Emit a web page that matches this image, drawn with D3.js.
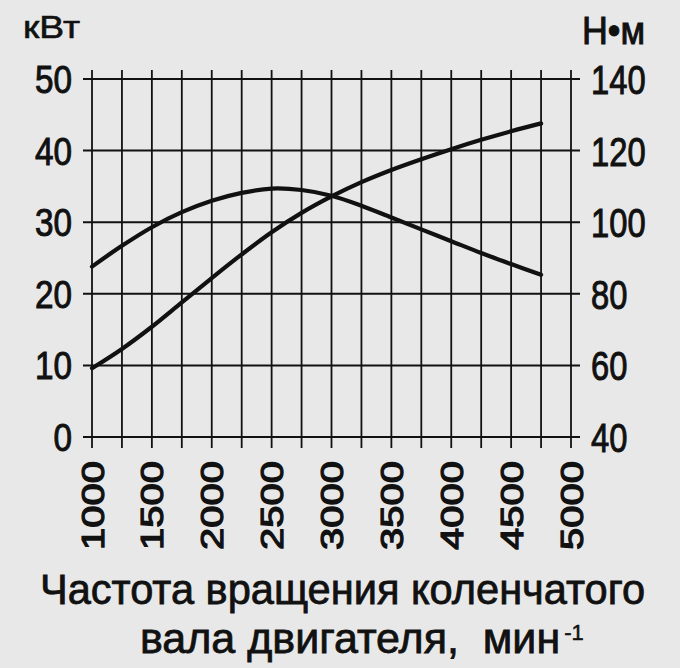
<!DOCTYPE html>
<html>
<head>
<meta charset="utf-8">
<script src="https://cdn.jsdelivr.net/npm/d3@7"></script>
<style>
  html, body { margin: 0; padding: 0; background: #e8e8e8; }
  svg { display: block; }
  text { fill: #111; stroke: #111; }
</style>
</head>
<body>
<script>
// ---- data ----
const rpm = [1000, 1250, 1500, 1750, 2000, 2250, 2500, 2750, 3000, 3250, 3500, 3750, 4000, 4250, 4500, 4750];
const powerKW = [9.6, 12.3, 15.4, 18.8, 22.2, 25.5, 28.6, 31.3, 33.6, 35.6, 37.3, 38.8, 40.2, 41.5, 42.7, 43.8];
const torqueNm = [87.6, 93.4, 98.6, 102.8, 106.0, 108.2, 109.4, 109.0, 107.4, 104.6, 101.3, 98.0, 94.7, 91.4, 88.3, 85.3];
const xTicks = [1000, 1500, 2000, 2500, 3000, 3500, 4000, 4500, 5000];
const xGrid = [1000, 1250, 1500, 1750, 2000, 2250, 2500, 2750, 3000, 3250, 3500, 3750, 4000, 4250, 4500, 4750, 5000];
const leftTicks = [0, 10, 20, 30, 40, 50];
const rightTicks = [40, 60, 80, 100, 120, 140];
const leftUnit = "кВт";
const rightUnit = "Н•м";
const titleLine1 = "Частота вращения коленчатого";
const titleLine2 = "вала двигателя,  мин";
const titleSup = "-1";

const W = 680, H = 668;
const svg = d3.select("body").append("svg").attr("width", W).attr("height", H);
svg.append("rect").attr("width", W).attr("height", H).attr("fill", "#e8e8e8");

const x = d3.scaleLinear().domain([1000, 5000]).range([92, 571]);
const yL = d3.scaleLinear().domain([0, 50]).range([437, 79]);
const yR = d3.scaleLinear().domain([40, 140]).range([437, 79]);

const ink = "#111";

// vertical grid lines
svg.append("g").selectAll("line").data(xGrid).join("line")
  .attr("x1", d => x(d)).attr("x2", d => x(d))
  .attr("y1", 70).attr("y2", 448)
  .attr("stroke", ink).attr("stroke-width", 1.8);

// horizontal grid lines
svg.append("g").selectAll("line").data(leftTicks).join("line")
  .attr("x1", 83).attr("x2", 580)
  .attr("y1", d => yL(d)).attr("y2", d => yL(d))
  .attr("stroke", ink).attr("stroke-width", 2);

const numFont = "'Liberation Sans Narrow', 'Liberation Sans', Arial, sans-serif";
const sansFont = "'Liberation Sans', Arial, sans-serif";

// left tick labels
svg.append("g").selectAll("text").data(leftTicks).join("text")
  .attr("x", 72).attr("y", d => yL(d) + 14)
  .attr("text-anchor", "end")
  .attr("font-family", numFont).attr("font-size", 39)
  .attr("stroke-width", 1)
  .attr("textLength", d => String(d).length * 18.5)
  .attr("lengthAdjust", "spacingAndGlyphs")
  .text(d => d);

// right tick labels
svg.append("g").selectAll("text").data(rightTicks).join("text")
  .attr("x", 591).attr("y", d => yR(d) + 15)
  .attr("text-anchor", "start")
  .attr("font-family", numFont).attr("font-size", 41)
  .attr("stroke-width", 1)
  .attr("textLength", d => String(d).length * 18.2)
  .attr("lengthAdjust", "spacingAndGlyphs")
  .text(d => d);

// x tick labels (rotated)
svg.append("g").selectAll("text").data(xTicks).join("text")
  .attr("transform", d => `translate(${x(d) + 11.5},${461}) rotate(-90)`)
  .attr("text-anchor", "end")
  .attr("font-family", sansFont).attr("font-size", 32)
  .attr("stroke-width", 1.2)
  .attr("textLength", 89)
  .attr("lengthAdjust", "spacingAndGlyphs")
  .text(d => d);

// unit labels
svg.append("text").attr("x", 23).attr("y", 38)
  .attr("font-family", sansFont).attr("font-size", 32)
  .attr("stroke-width", 0.6)
  .attr("textLength", 57).attr("lengthAdjust", "spacingAndGlyphs")
  .text(leftUnit);
svg.append("text").attr("x", 582).attr("y", 44)
  .attr("font-family", numFont).attr("font-size", 39)
  .attr("stroke-width", 1)
  .attr("textLength", 63).attr("lengthAdjust", "spacingAndGlyphs")
  .text(rightUnit);

// curves
const powerLine = d3.line().x((d, i) => x(rpm[i])).y(d => yL(d)).curve(d3.curveCatmullRom.alpha(0.5));
const torqueLine = d3.line().x((d, i) => x(rpm[i])).y(d => yR(d)).curve(d3.curveCatmullRom.alpha(0.5));
svg.append("path").attr("d", powerLine(powerKW))
  .attr("fill", "none").attr("stroke", ink).attr("stroke-width", 4.2).attr("stroke-linecap", "round");
svg.append("path").attr("d", torqueLine(torqueNm))
  .attr("fill", "none").attr("stroke", ink).attr("stroke-width", 4.2).attr("stroke-linecap", "round");

// axis title
svg.append("text").attr("x", 40).attr("y", 604)
  .attr("font-family", sansFont).attr("font-size", 43)
  .attr("stroke-width", 0.8)
  .attr("textLength", 605).attr("lengthAdjust", "spacingAndGlyphs")
  .text(titleLine1);
const t2 = svg.append("text").attr("x", 140).attr("y", 653)
  .attr("font-family", sansFont).attr("font-size", 43)
  .attr("stroke-width", 0.8)
  .style("white-space", "pre");
t2.append("tspan").text(titleLine2);
t2.append("tspan").attr("dy", -13).attr("dx", 4).attr("font-size", 22).attr("stroke-width", 0.5).text(titleSup);
</script>
</body>
</html>
